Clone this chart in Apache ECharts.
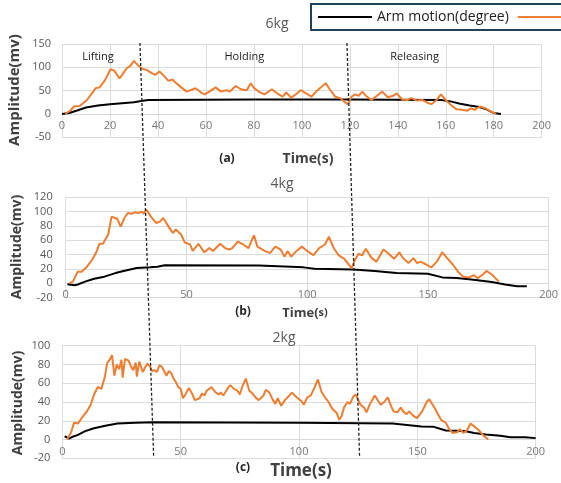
<!DOCTYPE html>
<html>
<head>
<meta charset="utf-8">
<script src="https://cdn.jsdelivr.net/npm/echarts@6/dist/echarts.min.js"></script>
<style>
html,body{margin:0;padding:0;background:#fff;}
#chart{width:561px;height:483px;}
</style>
</head>
<body>
<div id="chart"></div>
<script>
// ---------- DATA ----------
const panelTitles = ['6kg', '4kg', '2kg'];
const panelTags = ['(a)', '(b)', '(c)'];
const phaseNames = ['Lifting', 'Holding', 'Releasing'];
const seriesNames = ['Arm motion(degree)', 'EMG(mv)'];

// 6kg
const arm6T = [0,3,6,10,15,20,25,30,33,36,80,120,158,162,166,170,174,177,180,183];
const arm6V = [0,2,7,14,18,21,23,25,28,30,31,31,30,27,22,18,15,10,2,0];
const emg6T = [1.4,3.6,5,7.4,10.4,13,14,15.7,18,20.2,21.8,24,25.5,27,28.5,30,30.8,33,35.4,37.6,39,40.6,43,44.4,46,47.4,49.7,52,53.5,55.7,58,59.5,61.8,64,66.3,68.6,70,72.4,74.6,77,78.7,80,82,84.4,87.5,89.7,92,93.5,95.5,98,99.5,101.8,104,106.3,108.6,110,111.6,113.9,116,117.7,119.2,120.7,122.2,123.7,125.2,126.7,129,131.3,133.5,135.8,138,139.6,141.8,144,145.6,147.9,150.2,152.4,154,156.2,158,160,162.2,164.5,166.8,169,170.5,172,174.3,176.6,178.9,181];
const emg6V = [0,8,16,17,30,48,55,57,73,96,93,76,87,98,103,114,109,98,94,87,84,91,79,71,74,67,57,48,51,55,46,42,49,57,48,51,48,60,53,51,66,56,48,42,53,44,37,46,35,44,51,44,37,50,60,66,53,37,34,26,21,37,42,39,48,39,30,39,48,36,39,44,31,30,34,29,30,24,21,30,42,30,19,10,9,7,12,9,16,12,5,0];

// 4kg
const arm4T = [0.7,3.7,5,8,11.8,16,20.6,24,29.4,35,38,41,80,98.5,103,119,128,137,150,156,162,168,176.5,182,187,191];
const arm4V = [-1.5,-3,-2,2,6,9,14,17,21,22,23,25,24.5,22,20,19,17,14,13,8,7,5,1.5,-2,-4.5,-4.5];
const emg4T = [1.5,3,5,6.6,8.8,11,12.5,14,15.4,17.6,19,21.3,22.8,24.3,25.7,27.2,28.7,30,31.6,32.4,33.4,35.3,37.5,39,40.4,42.6,44.4,45.6,47.8,49.3,51.5,52.6,55,57.4,59.5,61,64,66,67.6,69,71.3,73.5,75.7,78,79.4,82.4,84.6,86.8,89,90.7,91.9,93.4,95.6,97.8,100,102.6,105,107.4,109,111,113,115.4,118.4,119.9,121.3,122.8,124.3,126.5,128.7,131.6,133.8,136,138.2,139.7,142,144,145.6,147,149.3,151.5,153.7,156,158,160.3,162.5,164.7,167,169,170.6,172.8,174.3,176.5,179.4];
const emg4V = [0,2,16,16,23,33,42,55,55,68,93,90,79,91,98,97,99,98,100,97,103,93,84,86,91,79,70,75,68,57,54,45,55,43,49,45,55,49,47,49,58,54,49,67,51,45,42,51,47,37,45,37,45,51,45,39,49,54,65,49,39,34,21,33,41,39,48,36,30,47,41,34,43,35,28,35,28,30,26,22,30,43,35,26,16,9,8,11,7,12,17,12,2];

// 2kg
const arm2T = [1,2.9,4.4,6.6,9.7,13.4,18.7,23.3,30.8,38.4,100,139.6,145.6,151.7,157,162,170,174,179,185,189.4,195.5,200];
const arm2V = [3.5,1,3,5,9,12,15,17,18,18.4,18,17,15.6,14,13.5,9.6,9,7,5.3,4,2.5,2.5,1.5];
const emg2T = [2,3.6,5,6.6,8.2,10.4,12,13.4,15,16.5,18,19,20,21,22,23,24,25,25.5,26.5,28,29,30,31,31.5,32.5,34,35,36,37,38,39,40,41,42,43,44,45,46,47,48,49,50,51,52,53.5,55,56,58,59,60,61,63,64.5,66,67,68,70,71,72.5,74,75,76,77.5,79,80,82,83,85,86,87.5,89,90,91,92.5,94,96,97,99,101,102,103.5,105,106.5,108,109.5,111,112.5,114,116,117,118,119,120.5,121.5,123,124,125,126,127.5,128.5,130,132,133,134.5,136,137.5,139,140,141.5,143,144,145.5,146.5,148,149,150,152,154,155,157,158.5,160,162,163.5,165,167,168,169.5,171,172.5,174,175.5,177,178.5,180];
const emg2V = [0,7,18,17,23,30,37,48,56,54,67,82,85,90,68,80,75,85,66,86,84,78,74,82,67,83,72,77,81,78,73,74,72,79,78,73,68,73,71,65,61,56,54,44,48,55,48,42,44,49,47,52,56,51,48,50,47,55,58,54,52,48,56,65,52,50,44,42,47,53,50,42,38,44,36,42,47,50,45,41,37,45,47,55,64,51,45,40,33,28,21,25,34,40,38,46,48,42,37,34,29,38,47,43,37,40,45,35,30,29,34,30,27,30,26,24,23,30,40,43,35,28,21,18,11,7,8,11,7,10,17,14,11,7,3,0];

// axis ranges per panel
const yMin = [-50, -20, -20];
const yMax = [150, 120, 100];
const yStep = [50, 20, 20];
const xStep = [20, 50, 50];

// phase boundaries (s): at top of 6kg panel, at bottom of 2kg panel
const boundTopT = [32.5, 118.8];
const boundBottomT = [38.6, 125.6];

// ---------- CHART ----------
const FONT = "'Open Sans', 'Liberation Sans', sans-serif";
const chart = echarts.init(document.getElementById('chart'), null, {renderer: 'canvas'});

const grids = [
  {left: 62, top: 44, width: 479.7, height: 93.3},
  {left: 65.7, top: 197.3, width: 485.3, height: 100.1},
  {left: 62.3, top: 345.7, width: 473.4, height: 112.6}
];
const xLabelMargin = [6, 6, 7];
const yLabelMargin = [11, 13, 12];

function zip(t, v) { return t.map((x, i) => [x, v[i]]); }
const armData = [zip(arm6T, arm6V), zip(arm4T, arm4V), zip(arm2T, arm2V)];
const emgData = [zip(emg6T, emg6V), zip(emg4T, emg4V), zip(emg2T, emg2V)];

const xAxes = [], yAxes = [], series = [];
for (let i = 0; i < 3; i++) {
  // place the x axis (line + labels) at value 0 of the y axis, Excel style
  const zeroOffset = -grids[i].height * (0 - yMin[i]) / (yMax[i] - yMin[i]);
  xAxes.push({
    type: 'value', gridIndex: i, min: 0, max: 200, interval: xStep[i],
    position: 'bottom', offset: zeroOffset,
    axisLine: {show: true, onZero: false, lineStyle: {color: '#d9d9d9', width: 1}},
    axisTick: {show: false},
    axisLabel: {color: '#767676', fontSize: 11, fontFamily: FONT, margin: xLabelMargin[i]},
    splitLine: {show: true, lineStyle: {color: '#dcdcdc', width: 1}}
  });
  yAxes.push({
    type: 'value', gridIndex: i, min: yMin[i], max: yMax[i], interval: yStep[i],
    axisLine: {show: false},
    axisTick: {show: false},
    axisLabel: {color: '#595959', fontSize: 11, fontFamily: FONT, margin: yLabelMargin[i]},
    splitLine: {show: true, lineStyle: {color: '#dcdcdc', width: 1}}
  });
  series.push({
    name: seriesNames[0], type: 'line', xAxisIndex: i, yAxisIndex: i,
    data: armData[i], symbol: 'none', showSymbol: false, smooth: false,
    lineStyle: {color: '#000000', width: 2}, itemStyle: {color: '#000000'},
    animation: false
  });
  series.push({
    name: seriesNames[1], type: 'line', xAxisIndex: i, yAxisIndex: i,
    data: emgData[i], symbol: 'none', showSymbol: false, smooth: false,
    lineStyle: {color: '#ED7D31', width: 2}, itemStyle: {color: '#ED7D31'},
    animation: false
  });
}

chart.setOption({
  animation: false,
  backgroundColor: '#ffffff',
  textStyle: {fontFamily: FONT},
  grid: grids,
  xAxis: xAxes,
  yAxis: yAxes,
  legend: {
    data: seriesNames, left: 311, top: 4, width: 420, orient: 'horizontal',
    icon: 'rect', itemWidth: 54, itemHeight: 2, itemGap: 9, padding: [6, 7],
    borderColor: '#1f4257', borderWidth: 2,
    textStyle: {color: '#222', fontSize: 14, fontFamily: FONT}
  },
  series: series
});

// ---------- ANNOTATIONS ----------
function txt(text, x, y, size, weight, color, rot) {
  return {
    type: 'text', x: x, y: y, rotation: rot || 0, z: 10,
    style: {text: text, fontSize: size, fontWeight: weight, fontFamily: FONT,
            fill: color, align: 'center', verticalAlign: 'middle'}
  };
}
const g = [];
const titlePos = [[277, 24], [282, 184], [284, 338]];
for (let i = 0; i < 3; i++) g.push(txt(panelTitles[i], titlePos[i][0], titlePos[i][1], 14, 'normal', '#595959'));

// phase labels: midpoints of phases in the 6kg panel
const phaseX = [15, 76, 147];
phaseNames.forEach((n, i) => {
  const p = chart.convertToPixel({gridIndex: 0}, [phaseX[i], 125]);
  g.push(txt(n, p[0], 57, 11, 'normal', '#1a1a1a'));
});

// y axis titles
const yTitle = [[15, 90, 15], [17, 247, 14], [18, 403, 14]];
yTitle.forEach(a => g.push(txt('Amplitude(mv)', a[0], a[1], a[2], 'bold', '#404040', Math.PI / 2)));

// panel tags and Time(s)
g.push(txt(panelTags[0], 227, 159, 12, 'bold', '#262626'));
g.push(txt('Time(s)', 308, 159, 14, 'bold', '#404040'));
g.push(txt(panelTags[1], 243, 312, 12, 'bold', '#262626'));
g.push({
  type: 'text', x: 305, y: 313, z: 10,
  style: {
    text: '{a|Time(}{b|s)}', align: 'center', verticalAlign: 'middle',
    rich: {
      a: {fontSize: 13, fontWeight: 'bold', fontFamily: FONT, fill: '#404040', color: '#404040'},
      b: {fontSize: 11, fontWeight: 'bold', fontFamily: FONT, fill: '#404040', color: '#404040'}
    }
  }
});
g.push(txt(panelTags[2], 243, 468, 12, 'bold', '#262626'));
g.push(txt('Time(s)', 301, 471, 17, 'bold', '#404040'));

// dashed phase boundary lines crossing the three panels
for (let k = 0; k < 2; k++) {
  const a = chart.convertToPixel({gridIndex: 0}, [boundTopT[k], yMax[0]]);
  const b = chart.convertToPixel({gridIndex: 2}, [boundBottomT[k], -19]);
  g.push({
    type: 'line', z: 20,
    shape: {x1: a[0], y1: a[1] - 1, x2: b[0], y2: b[1]},
    style: {stroke: '#222', lineWidth: 1.3, lineDash: [3, 2]}
  });
}

chart.setOption({graphic: g});
</script>
</body>
</html>
